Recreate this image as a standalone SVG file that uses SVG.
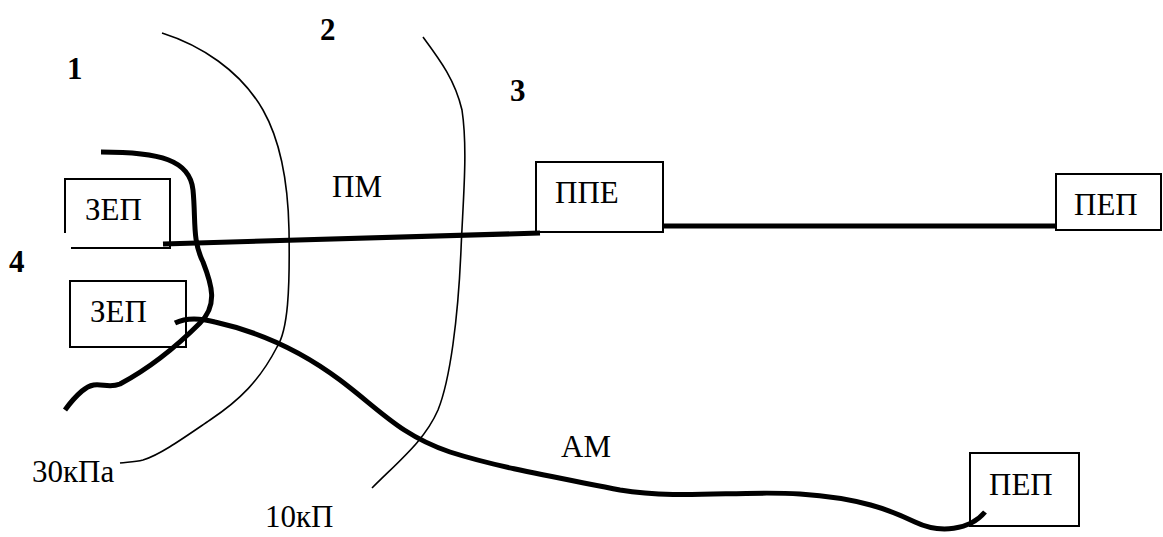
<svg xmlns="http://www.w3.org/2000/svg" width="1163" height="537" viewBox="0 0 1163 537">
<style>
.box{fill:none;stroke:#000;stroke-width:2}
.thick{fill:none;stroke:#000;stroke-width:5}
.thin{fill:none;stroke:#000;stroke-width:1.6}
text{font-family:'Liberation Serif','Times New Roman',serif;fill:#000}
.t{font-size:31px}
.n{font-size:31px;font-weight:bold}
</style>
<rect width="1163" height="537" fill="#fff"/>
<g id="zones">
<path class="thin" d="M162,33 C200,45 240,70 263,110 C280,140 288,180 289,230 C290,290 288,330 277,347 C260,380 240,400 210,420 C185,437 160,455 143,460 C135,462 128,462 120,463"/>
<path class="thin" d="M423,37 C440,60 455,80 462,110 C468,150 463,200 461,250 C458,320 450,380 438,410 C425,440 400,460 372,488"/>
<path class="thick" d="M101,152 C160,152 190,160 193,190 C196,220 192,240 203,262 C212,285 218,305 200,323 C180,343 150,368 120,384 C105,390 97,378 82,391 C75,397 70,403 65,410"/>
</g>
<g id="connectors">
<path class="thick" d="M163,244 L540,233"/>
<path class="thick" d="M663,226 H1057"/>
<path class="thick" d="M175,323 C185,318 200,318 215,322 C260,332 300,350 340,380 C380,410 400,435 450,452 C500,468 560,478 620,490 C680,500 740,490 800,494 C860,498 890,510 915,522 C940,534 970,530 985,512"/>
</g>
<g id="zep1">
<path class="box" d="M65,233 V179 H170 V248 H71"/>
<text class="t" x="85" y="220">ЗЕП</text>
</g>
<g id="zep2">
<rect class="box" x="70" y="281" width="116" height="66"/>
<text class="t" x="90" y="322">ЗЕП</text>
</g>
<g id="ppe">
<rect class="box" x="536" y="162" width="127" height="70"/>
<text class="t" x="555" y="203">ППЕ</text>
</g>
<g id="pep1">
<rect class="box" x="1056" y="174" width="105" height="56"/>
<text class="t" x="1074" y="215">ПЕП</text>
</g>
<g id="pep2">
<rect class="box" x="970" y="453" width="109" height="73"/>
<text class="t" x="989" y="495">ПЕП</text>
</g>
<g id="labels">
<text class="n" x="67" y="79">1</text>
<text class="n" x="320" y="40">2</text>
<text class="n" x="510" y="101">3</text>
<text class="n" x="9" y="272">4</text>
<text class="t" x="332" y="197">ПМ</text>
<text class="t" x="561" y="457">АМ</text>
<text class="t" x="32" y="482">30кПа</text>
<text class="t" x="265" y="527">10кП</text>
</g>
</svg>
